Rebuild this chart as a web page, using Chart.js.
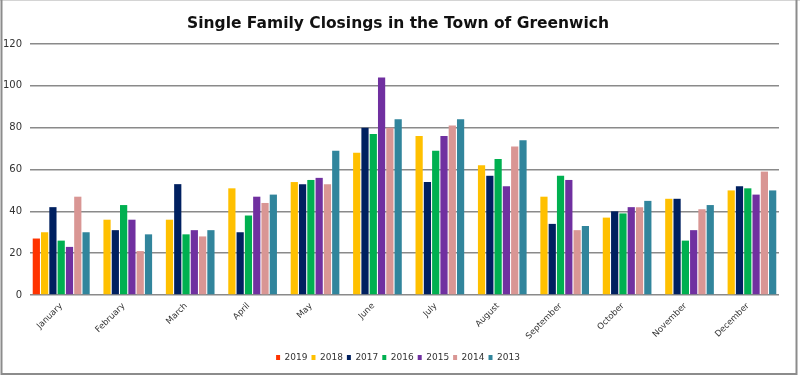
<!DOCTYPE html>
<html>
<head>
<meta charset="utf-8">
<script src="https://cdn.jsdelivr.net/npm/chart.js@4.4.1/dist/chart.umd.min.js"></script>
<style>
  html, body { margin: 0; padding: 0; background: #fff; }
  #wrap { width: 800px; height: 376px; position: relative; }
</style>
</head>
<body>
<div id="wrap"><canvas id="c" width="800" height="376"></canvas></div>
<script>
const months = ["January","February","March","April","May","June","July","August","September","October","November","December"];
const yTicks = [0, 20, 40, 60, 80, 100, 120];

const s2019 = [27, null, null, null, null, null, null, null, null, null, null, null];
const s2018 = [30, 36, 36, 51, 54, 68, 76, 62, 47, 37, 46, 50];
const s2017 = [42, 31, 53, 30, 53, 80, 54, 57, 34, 40, 46, 52];
const s2016 = [26, 43, 29, 38, 55, 77, 69, 65, 57, 39, 26, 51];
const s2015 = [23, 36, 31, 47, 56, 104, 76, 52, 55, 42, 31, 48];
const s2014 = [47, 21, 28, 44, 53, 80, 81, 71, 31, 42, 41, 59];
const s2013 = [30, 29, 31, 48, 69, 84, 84, 74, 33, 45, 43, 50];

const seriesNames = ["2019","2018","2017","2016","2015","2014","2013"];
const seriesData = [s2019, s2018, s2017, s2016, s2015, s2014, s2013];
const seriesColors = ["#ff3300","#ffc000","#002060","#00b050","#7030a0","#d99694","#31859c"];

const FONT = "'DejaVu Sans', 'Verdana', sans-serif";

const framePlugin = {
  id: 'frame',
  beforeDraw(chart) {
    const ctx = chart.ctx;
    ctx.save();
    ctx.fillStyle = '#ffffff';
    ctx.fillRect(0, 0, chart.width, chart.height);
    ctx.restore();
  },
  afterDraw(chart) {
    const ctx = chart.ctx;
    ctx.save();
    ctx.strokeStyle = '#d4d4d4';
    ctx.lineWidth = 1;
    ctx.beginPath();
    ctx.moveTo(0, 0.5); ctx.lineTo(800, 0.5);
    ctx.stroke();
    ctx.strokeStyle = '#8c8c8c';
    ctx.lineWidth = 2;
    ctx.beginPath();
    ctx.moveTo(1.5, 0); ctx.lineTo(1.5, 374);
    ctx.lineTo(796.5, 374); ctx.lineTo(796.5, 0);
    ctx.stroke();
    ctx.restore();
  }
};

new Chart(document.getElementById('c'), {
  type: 'bar',
  data: {
    labels: months,
    datasets: seriesNames.map((n, i) => ({
      label: n,
      data: seriesData[i],
      backgroundColor: seriesColors[i],
      borderWidth: 0,
      categoryPercentage: 0.93,
      barPercentage: 0.87
    }))
  },
  options: {
    responsive: false,
    animation: false,
    devicePixelRatio: 1,
    layout: { padding: { left: 0, right: 4, top: 0, bottom: 4 } },
    plugins: {
      title: {
        display: true,
        text: 'Single Family Closings in the Town of Greenwich',
        color: '#111',
        font: { family: FONT, size: 15.5, weight: 'bold', lineHeight: 1.2 },
        padding: { top: 14.5, bottom: 10.9 }
      },
      legend: {
        position: 'bottom',
        align: 'center',
        labels: {
          boxWidth: 4,
          boxHeight: 5,
          padding: 4,
          color: '#333',
          font: { family: FONT, size: 9 }
        }
      },
      tooltip: { enabled: false }
    },
    scales: {
      x: {
        grid: { display: false, drawTicks: false },
        border: { display: false },
        ticks: {
          color: '#333',
          font: { family: FONT, size: 8.5 },
          maxRotation: 45,
          minRotation: 45,
          padding: 6,
          autoSkip: false
        },
        afterFit(scale) { scale.height = 54; }
      },
      y: {
        min: 0,
        max: 120,
        afterBuildTicks(scale) { scale.ticks = yTicks.map(v => ({ value: v })); },
        grid: { color: '#8a8a8a', lineWidth: 1.5, drawTicks: false },
        border: { display: false },
        ticks: {
          color: '#333',
          font: { family: FONT, size: 10 },
          padding: 8
        },
        afterFit(scale) { scale.width = 30; }
      },
      yR: {
        position: 'right',
        display: true,
        grid: { display: false, drawTicks: false },
        border: { display: false },
        ticks: { display: false },
        afterFit(scale) { scale.width = 17; }
      }
    }
  },
  plugins: [framePlugin]
});
</script>
</body>
</html>
